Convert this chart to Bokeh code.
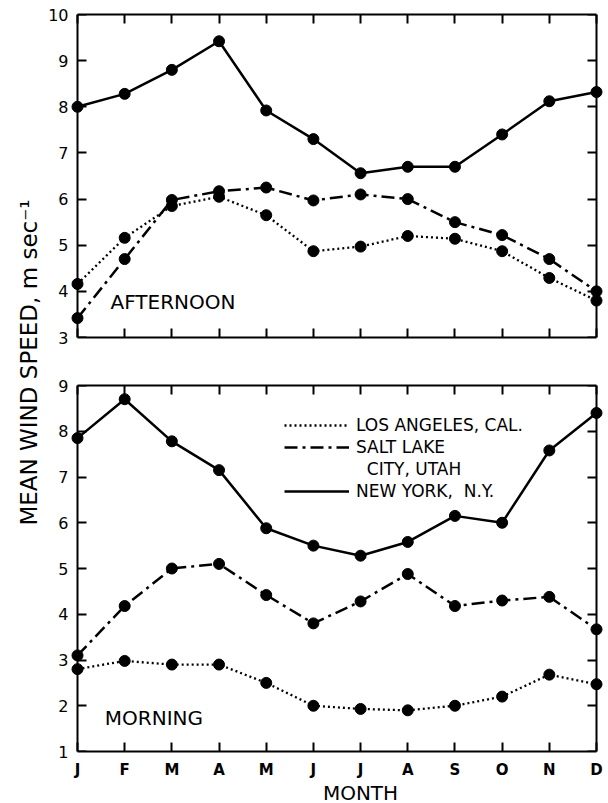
import math
from bokeh.plotting import figure
from bokeh.models import Range1d, LinearAxis, FixedTicker, Legend, LegendItem, Label
from bokeh.layouts import row, column
from bokeh.embed import file_html
from bokeh.resources import INLINE

# ---------------- data ----------------
months = ["J", "F", "M", "A", "M", "J", "J", "A", "S", "O", "N", "D"]
month_idx = list(range(12))

# Afternoon
la_pm = [4.16, 5.16, 5.85, 6.05, 5.65, 4.87, 4.97, 5.20, 5.14, 4.87, 4.29, 3.80]
slc_pm = [3.42, 4.70, 5.98, 6.17, 6.25, 5.97, 6.10, 6.00, 5.50, 5.22, 4.70, 4.00]
ny_pm = [8.00, 8.28, 8.80, 9.42, 7.92, 7.30, 6.56, 6.70, 6.70, 7.40, 8.12, 8.32]

# Morning
la_am = [2.80, 2.98, 2.90, 2.90, 2.50, 2.00, 1.93, 1.90, 2.00, 2.20, 2.68, 2.47]
slc_am = [3.10, 4.18, 5.00, 5.10, 4.42, 3.80, 4.28, 4.88, 4.18, 4.30, 4.38, 3.67]
ny_am = [7.85, 8.70, 7.78, 7.15, 5.88, 5.50, 5.28, 5.58, 6.15, 6.00, 7.58, 8.40]

series_labels = ["LOS ANGELES, CAL.", "SALT LAKE", "\u00a0\u00a0CITY, UTAH", "NEW YORK,  N.Y."]
y_title = "MEAN WIND SPEED, m sec\u207b\u00b9"
x_title = "MONTH"

FONT = "DejaVu Sans"
PAD = 0.1484
LAB_W = 44
MAIN_W = 608 - LAB_W


def style_axis(ax):
    ax.axis_line_width = 2
    ax.axis_line_color = "black"
    ax.major_tick_line_width = 2
    ax.major_tick_line_color = "black"
    ax.major_tick_in = 9
    ax.major_tick_out = 0
    ax.minor_tick_line_color = None
    ax.major_label_text_font = FONT
    ax.major_label_text_color = "black"


def add_axes(p, y0, y1, show_month_labels):
    yt = FixedTicker(ticks=list(range(y0, y1 + 1)), minor_ticks=[])
    xt = FixedTicker(ticks=month_idx, minor_ticks=[])
    # frame lines with inward ticks
    left = LinearAxis(ticker=yt, fixed_location=0)
    right = LinearAxis(ticker=yt, fixed_location=11)
    below = LinearAxis(ticker=xt, bounds=(0, 11),
                       major_label_overrides={i: m for i, m in enumerate(months)})
    above = LinearAxis(ticker=xt, bounds=(0, 11))
    for ax in (left, right, below, above):
        style_axis(ax)
    for ax in (left, right, above):
        ax.major_label_text_font_size = "0px"
        ax.major_label_standoff = 0
    if show_month_labels:
        below.major_label_text_font_size = "15px"
        below.major_label_text_font_style = "bold"
        below.major_label_standoff = 9
    else:
        below.major_label_text_font_size = "0px"
        below.major_label_standoff = 0
    # y tick labels, drawn at the frame edge
    ylab = LinearAxis(ticker=yt)
    style_axis(ylab)
    ylab.axis_line_color = None
    ylab.major_tick_line_color = None
    ylab.major_label_text_font_size = "16px"
    ylab.major_label_standoff = 2
    p.add_layout(left, "left")
    p.add_layout(ylab, "left")
    p.add_layout(right, "right")
    p.add_layout(below, "below")
    p.add_layout(above, "above")


def make_panel(y0, y1, height, btop, bbot, show_month_labels):
    p = figure(width=MAIN_W, height=height,
               x_range=Range1d(-PAD, 11 + PAD), y_range=Range1d(y0, y1),
               x_axis_location=None, y_axis_location=None,
               output_backend="svg", toolbar_location=None,
               min_border_left=70 - LAB_W, min_border_right=5,
               min_border_top=btop, min_border_bottom=bbot)
    p.outline_line_color = None
    p.grid.visible = False
    p.background_fill_color = "white"
    p.border_fill_color = "white"
    add_axes(p, y0, y1, show_month_labels)
    return p


def draw_series(p, la, slc, ny):
    r_la = p.line(month_idx, la, line_color="black", line_width=2.3, line_dash="2 3")
    r_slc = p.line(month_idx, slc, line_color="black", line_width=2.5, line_dash="13 5 3 5")
    r_ny = p.line(month_idx, ny, line_color="black", line_width=2.5)
    for s in (la, slc, ny):
        p.scatter(month_idx, s, size=11, color="black")
    return r_la, r_slc, r_ny


def blank_fig(w, h):
    f = figure(width=w, height=h, x_range=Range1d(0, 1), y_range=Range1d(0, 1),
               x_axis_location=None, y_axis_location=None,
               output_backend="svg", toolbar_location=None, min_border=0)
    f.outline_line_color = None
    f.grid.visible = False
    return f


# ---------------- top (afternoon) ----------------
top = make_panel(3, 10, 360, 14, 23, False)
draw_series(top, la_pm, slc_pm, ny_pm)
top.add_layout(Label(x=0.70, y=3.77, text="AFTERNOON", text_font=FONT,
                     text_font_size="20px", text_align="left", text_baseline="middle",
                     text_color="black"))

# ---------------- bottom (morning) ----------------
bot = make_panel(1, 9, 421, 25, 28, True)
r_la, r_slc, r_ny = draw_series(bot, la_am, slc_am, ny_am)
r_dummy = bot.line(month_idx, slc_am, line_alpha=0)
bot.add_layout(Label(x=0.58, y=1.73, text="MORNING", text_font=FONT,
                     text_font_size="20px", text_align="left", text_baseline="middle",
                     text_color="black"))

legend = Legend(items=[LegendItem(label=series_labels[0], renderers=[r_la]),
                       LegendItem(label=series_labels[1], renderers=[r_slc]),
                       LegendItem(label=series_labels[2], renderers=[r_dummy]),
                       LegendItem(label=series_labels[3], renderers=[r_ny])],
                location=(214, 250), orientation="vertical",
                glyph_width=65, glyph_height=20, label_height=20, label_width=10,
                label_standoff=7, spacing=2, padding=0, margin=0,
                border_line_color=None, background_fill_alpha=0,
                label_text_font=FONT, label_text_font_size="17px",
                label_text_color="black")
bot.add_layout(legend, "center")

# ---------------- x title ----------------
xlab = blank_fig(MAIN_W, 22)
xlab.add_layout(Label(x=290, y=11, x_units="screen", y_units="screen",
                      text=x_title, text_align="center", text_baseline="middle",
                      text_font=FONT, text_font_size="20px", text_color="black"))

# ---------------- y title ----------------
lab = blank_fig(LAB_W, 803)
lab.add_layout(Label(x=28, y=803 - 362, x_units="screen", y_units="screen",
                     text=y_title, angle=math.pi / 2, text_align="center",
                     text_baseline="middle", text_font=FONT, text_font_size="23px",
                     text_color="black"))

layout = row(lab, column(top, bot, xlab, spacing=0), spacing=0)

open("out.html", "w").write(file_html(layout, INLINE))
